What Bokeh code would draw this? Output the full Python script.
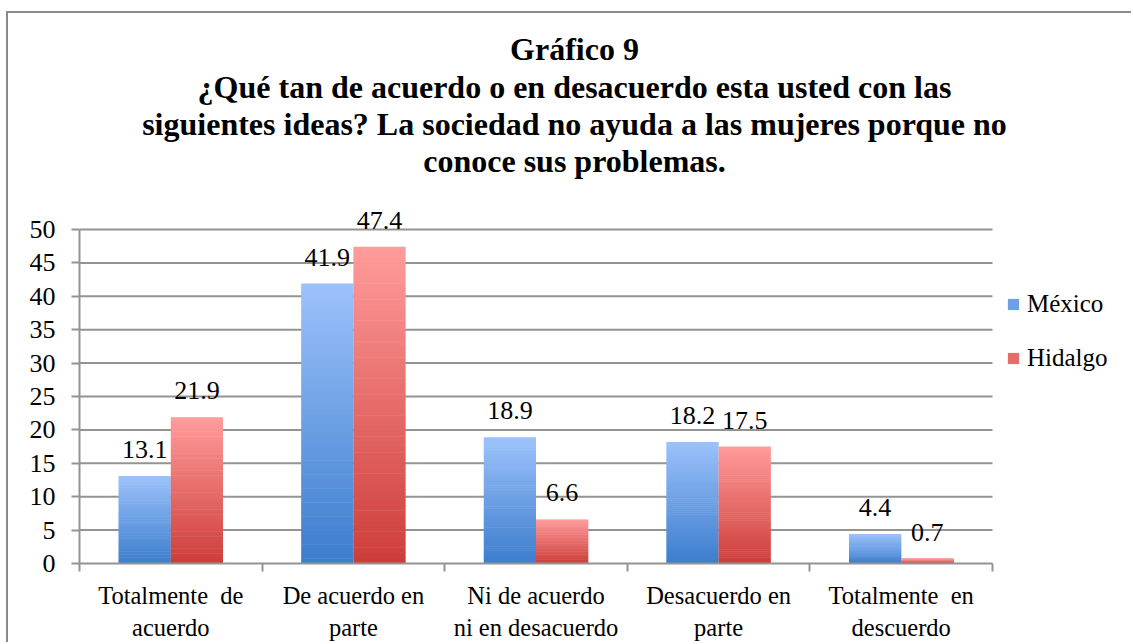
import numpy as np
from bokeh.plotting import figure
from bokeh.models import (ColumnDataSource, FixedTicker, Range1d, Label, LabelSet,
                          Legend, LegendItem)
from bokeh.core.properties import value
from bokeh.embed import file_html
from bokeh.resources import INLINE

# ---------------- data ----------------
categories = ["Totalmente\u00a0 de\nacuerdo", "De acuerdo en\nparte",
              "Ni de acuerdo\nni en desacuerdo", "Desacuerdo en\nparte",
              "Totalmente\u00a0 en\ndescuerdo"]
mexico = [13.1, 41.9, 18.9, 18.2, 4.4]
hidalgo = [21.9, 47.4, 6.6, 17.5, 0.7]
series_names = ["México", "Hidalgo"]
y_ticks = [0, 5, 10, 15, 20, 25, 30, 35, 40, 45, 50]
title_lines = ["Gráfico 9",
               "¿Qué tan de acuerdo o en desacuerdo esta usted con las",
               "siguientes ideas? La sociedad no ayuda a las mujeres porque no",
               "conoce sus problemas."]

# ---------------- style / layout ----------------
FONT = "Liberation Serif"
GRID = "#939393"
MEX_TOP, MEX_BOT = "#9cc2fb", "#3c7dcd"
HID_TOP, HID_BOT = "#ff9c9b", "#cd3d3a"
BAR_W = 0.286
OFFS = [-0.143, 0.143]
NSLICE = 60

BORDER = 2
EL_L, EL_T = 6, 11                   # css margins of the figure element
W, H = 1125, 631                     # canvas size
CANVAS_L, CANVAS_T = EL_L + BORDER, EL_T + BORDER
CANVAS_R, CANVAS_B = CANVAS_L + W, CANVAS_T + H
FRAME_L, FRAME_B = 79, 563           # page pixels of x=0 / y=0
PPX = (992 - 79) / 5.0               # pixels per category
PPY = (563 - 229) / 50.0             # pixels per y unit
X_END = (CANVAS_R - FRAME_L) / PPX
Y_END = (FRAME_B - CANVAS_T) / PPY


def X(px):
    return (px - FRAME_L) / PPX


def Y(py):
    return (FRAME_B - py) / PPY


def _rgb(h):
    h = h.lstrip("#")
    return np.array([int(h[i:i + 2], 16) for i in (0, 2, 4)], dtype=float)


def gradient_source(vals, offset, top_hex, bot_hex):
    top_c, bot_c = _rgb(top_hex), _rgb(bot_hex)
    d = dict(left=[], right=[], bottom=[], top=[], color=[])
    eps = 0.5 / PPY
    for i, v in enumerate(vals):
        xc = i + 0.5 + offset
        for k in range(NSLICE):
            t = (k + 0.5) / NSLICE
            c = bot_c * (1 - t) + top_c * t
            d["left"].append(xc - BAR_W / 2)
            d["right"].append(xc + BAR_W / 2)
            d["bottom"].append(v * k / NSLICE)
            d["top"].append(min(v, v * (k + 1) / NSLICE + eps))
            d["color"].append("#%02x%02x%02x" % tuple(int(round(x)) for x in c))
    return ColumnDataSource(d)


p = figure(width=W, height=H, output_backend="svg", toolbar_location=None,
           x_range=Range1d(0, X_END), y_range=Range1d(0, Y_END),
           min_border_left=FRAME_L - CANVAS_L, min_border_right=0, min_border_top=0,
           min_border_bottom=CANVAS_B - FRAME_B)
p.styles = {"border-left": "%dpx solid #8a8a8a" % BORDER,
            "border-top": "%dpx solid #8a8a8a" % BORDER,
            "margin-top": "%dpx" % EL_T, "margin-left": "%dpx" % EL_L}
p.outline_line_color = None
p.background_fill_color = "white"
p.border_fill_color = "white"
p.xgrid.grid_line_color = None
p.ygrid.grid_line_color = None

# horizontal gridlines across the plot area
grid_y = [t for t in y_ticks if t > 0]
p.segment(x0=[0] * len(grid_y), x1=[len(categories)] * len(grid_y), y0=grid_y, y1=grid_y,
          line_color=GRID, line_width=2)

# bars with vertical gradient
renderers = []
for vals, off, (tc, bc) in zip([mexico, hidalgo], OFFS,
                               [(MEX_TOP, MEX_BOT), (HID_TOP, HID_BOT)]):
    src = gradient_source(vals, off, tc, bc)
    r = p.quad(left="left", right="right", bottom="bottom", top="top", source=src,
               fill_color="color", line_color=None)
    renderers.append(r)

# value labels
for vals, off in zip([mexico, hidalgo], OFFS):
    lsrc = ColumnDataSource(dict(x=[i + 0.5 + off for i in range(len(vals))], y=vals,
                                 txt=["%.1f" % v for v in vals]))
    p.add_layout(LabelSet(x="x", y="y", text="txt", source=lsrc, text_align="center",
                          text_baseline="alphabetic", y_offset=18,
                          text_font=value(FONT), text_font_size="26px",
                          text_color="black"))

# axes
p.yaxis.ticker = FixedTicker(ticks=y_ticks)
p.yaxis.bounds = (y_ticks[0], y_ticks[-1])
p.yaxis.major_label_text_font = FONT
p.yaxis.major_label_text_font_size = "26px"
p.yaxis.major_label_text_color = "black"
p.yaxis.major_tick_out = 8
p.yaxis.major_tick_in = 0
p.yaxis.minor_tick_line_color = None
p.yaxis.major_label_standoff = 16
p.yaxis.axis_line_color = GRID
p.yaxis.axis_line_width = 2
p.yaxis.major_tick_line_color = GRID
p.yaxis.major_tick_line_width = 2

centers = [i + 0.5 for i in range(len(categories))]
bounds = list(range(len(categories) + 1))
p.xaxis.ticker = FixedTicker(ticks=centers, minor_ticks=bounds)
p.xaxis.bounds = (0, len(categories))
p.xaxis.major_label_overrides = {c: lab for c, lab in zip(centers, categories)}
p.xaxis.major_label_text_font = FONT
p.xaxis.major_label_text_font_size = "24.5px"
p.xaxis.major_label_text_color = "black"
p.xaxis.major_tick_line_color = None
p.xaxis.major_tick_out = 0
p.xaxis.major_tick_in = 0
p.xaxis.minor_tick_out = 8
p.xaxis.minor_tick_in = 0
p.xaxis.minor_tick_line_color = GRID
p.xaxis.minor_tick_line_width = 2
p.xaxis.major_label_standoff = 10
p.xaxis.axis_line_color = GRID
p.xaxis.axis_line_width = 2

# title lines
for line, base in zip(title_lines, [48, 86, 123, 160]):
    p.add_layout(Label(x=X(574), y=Y(base), text=line,
                       text_align="center", text_baseline="alphabetic",
                       text_font=FONT, text_font_size="32px",
                       text_font_style="bold", text_color="black"))

# legend
legend = Legend(items=[LegendItem(label=series_names[0], renderers=[renderers[0]], index=NSLICE // 2),
                       LegendItem(label=series_names[1], renderers=[renderers[1]], index=NSLICE // 2)],
                location=(1006 - FRAME_L, FRAME_B - 373))
legend.label_text_font = FONT
legend.label_text_font_size = "25px"
legend.label_text_color = "black"
legend.glyph_width = 14
legend.glyph_height = 14
legend.label_standoff = 7
legend.label_height = 30
legend.spacing = 24
legend.padding = 0
legend.margin = 0
legend.border_line_color = None
legend.background_fill_alpha = 0
p.add_layout(legend)

open("out.html", "w").write(file_html(p, INLINE))
